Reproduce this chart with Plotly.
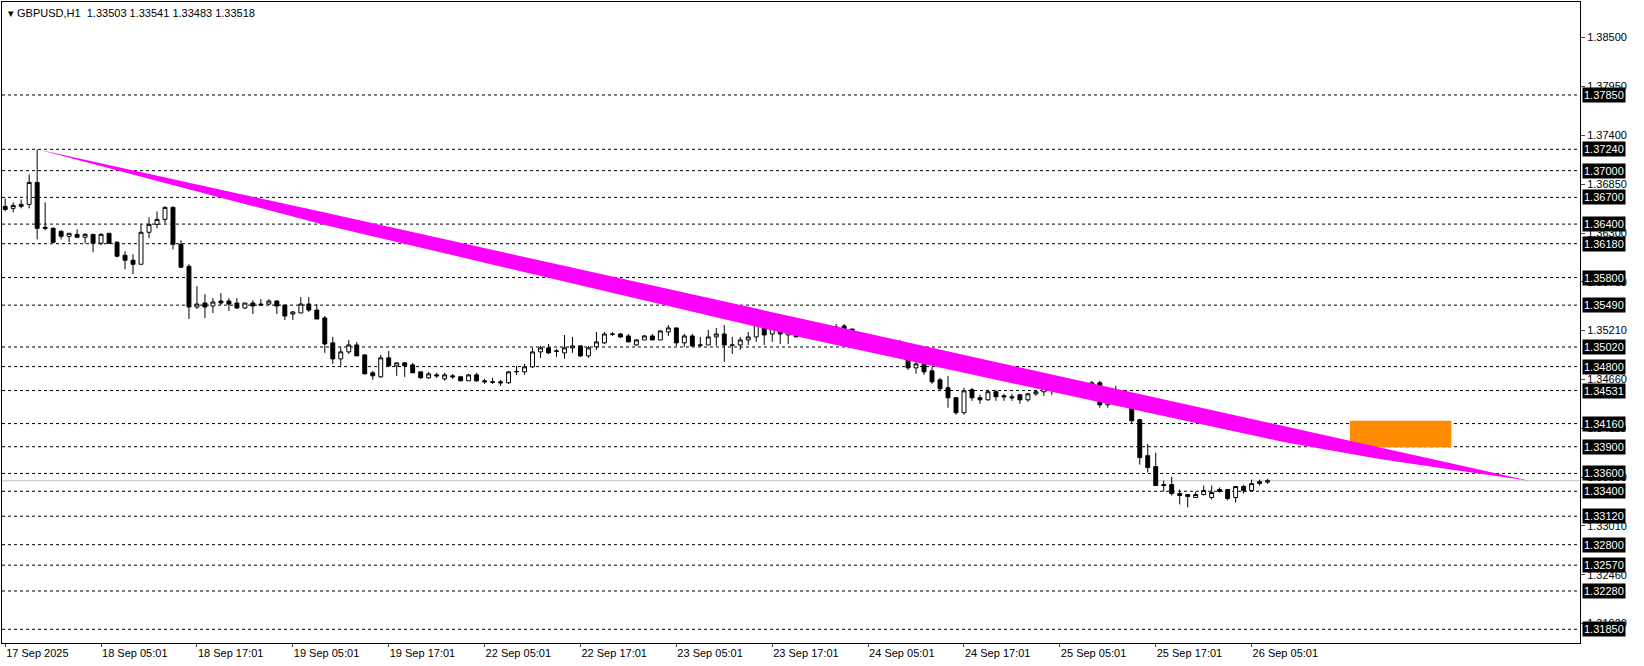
import plotly.graph_objects as go

# GBPUSD H1 bars
opens = [1.36599, 1.36577, 1.36599, 1.36621, 1.36868, 1.36364, 1.36353, 1.36319, 1.36263, 1.36285,
         1.36252, 1.36285, 1.36185, 1.36297, 1.36196, 1.36050, 1.35994, 1.35949, 1.36308, 1.36397,
         1.36453, 1.36588, 1.36173, 1.35927, 1.35469, 1.35514, 1.35480, 1.35536, 1.35536, 1.35514,
         1.35458, 1.35514, 1.35502, 1.35502, 1.35536, 1.35491, 1.35390, 1.35402, 1.35502, 1.35435,
         1.35346, 1.35066, 1.34886, 1.34965, 1.35043, 1.34931, 1.34730, 1.34685, 1.34898, 1.34808,
         1.34842, 1.34819, 1.34741, 1.34674, 1.34707, 1.34662, 1.34696, 1.34685, 1.34640, 1.34707,
         1.34640, 1.34629, 1.34629, 1.34618, 1.34741, 1.34741, 1.34797, 1.34965, 1.35010, 1.34976,
         1.34954, 1.35010, 1.35032, 1.34920, 1.35021, 1.35066, 1.35166, 1.35166, 1.35144, 1.35043,
         1.35099, 1.35144, 1.35099, 1.35189, 1.35234, 1.35066, 1.35144, 1.35043, 1.35043, 1.35133,
         1.35166, 1.35043, 1.35043, 1.35099, 1.35133, 1.35323, 1.35166, 1.35234, 1.35155, 1.35200,
         1.35144, 1.35178, 1.35245, 1.35144, 1.35189, 1.35256, 1.35222, 1.35133, 1.35088, 1.35099,
         1.35043, 1.35077, 1.35077, 1.34976, 1.34786, 1.34830, 1.34752, 1.34651, 1.34562, 1.34450,
         1.34282, 1.34539, 1.34450, 1.34427, 1.34517, 1.34472, 1.34461, 1.34483, 1.34427, 1.34494,
         1.34517, 1.34573, 1.34539, 1.34562, 1.34606, 1.34606, 1.34517, 1.34618, 1.34371, 1.34517,
         1.34483, 1.34427, 1.34203, 1.33800, 1.33677, 1.33475, 1.33475, 1.33374, 1.33363, 1.33330,
         1.33363, 1.33330, 1.33397, 1.33419, 1.33330, 1.33453, 1.33408, 1.33486, 1.33503]
highs = [1.36689, 1.36644, 1.36677, 1.36957, 1.37240, 1.36644, 1.36364, 1.36330, 1.36297, 1.36341,
         1.36297, 1.36285, 1.36297, 1.36297, 1.36207, 1.36095, 1.36061, 1.36397, 1.36476, 1.36543,
         1.36599, 1.36599, 1.36218, 1.35949, 1.35703, 1.35613, 1.35569, 1.35625, 1.35569, 1.35569,
         1.35514, 1.35546, 1.35557, 1.35557, 1.35546, 1.35491, 1.35424, 1.35580, 1.35580, 1.35502,
         1.35368, 1.35133, 1.35021, 1.35099, 1.35077, 1.34942, 1.34752, 1.34931, 1.34976, 1.34842,
         1.34842, 1.34842, 1.34741, 1.34741, 1.34730, 1.34730, 1.34718, 1.34696, 1.34718, 1.34730,
         1.34662, 1.34674, 1.34651, 1.34752, 1.34808, 1.34830, 1.35010, 1.35032, 1.35054, 1.34998,
         1.35155, 1.35133, 1.35043, 1.35032, 1.35189, 1.35189, 1.35189, 1.35178, 1.35166, 1.35110,
         1.35155, 1.35166, 1.35211, 1.35267, 1.35234, 1.35166, 1.35166, 1.35133, 1.35211, 1.35234,
         1.35267, 1.35133, 1.35133, 1.35189, 1.35334, 1.35357, 1.35245, 1.35245, 1.35234, 1.35211,
         1.35211, 1.35256, 1.35256, 1.35245, 1.35278, 1.35278, 1.35222, 1.35144, 1.35155, 1.35133,
         1.35099, 1.35110, 1.35099, 1.35010, 1.34864, 1.34864, 1.34797, 1.34674, 1.34696, 1.34450,
         1.34562, 1.34562, 1.34483, 1.34539, 1.34539, 1.34494, 1.34494, 1.34494, 1.34506, 1.34539,
         1.34606, 1.34606, 1.34606, 1.34618, 1.34640, 1.34629, 1.34640, 1.34640, 1.34528, 1.34584,
         1.34539, 1.34450, 1.34214, 1.33934, 1.33834, 1.33520, 1.33565, 1.33419, 1.33363, 1.33397,
         1.33464, 1.33464, 1.33442, 1.33419, 1.33453, 1.33475, 1.33531, 1.33531, 1.33541]
lows = [1.36543, 1.36532, 1.36577, 1.36577, 1.36229, 1.36330, 1.36185, 1.36229, 1.36196, 1.36252,
        1.36185, 1.36084, 1.36162, 1.36185, 1.36028, 1.35893, 1.35837, 1.35949, 1.36241, 1.36353,
        1.36409, 1.36117, 1.35905, 1.35334, 1.35446, 1.35346, 1.35402, 1.35491, 1.35424, 1.35446,
        1.35446, 1.35390, 1.35480, 1.35491, 1.35390, 1.35323, 1.35323, 1.35402, 1.35413, 1.35334,
        1.34954, 1.34830, 1.34808, 1.34942, 1.34920, 1.34718, 1.34651, 1.34674, 1.34797, 1.34696,
        1.34685, 1.34730, 1.34662, 1.34662, 1.34674, 1.34640, 1.34662, 1.34640, 1.34640, 1.34629,
        1.34606, 1.34606, 1.34584, 1.34606, 1.34707, 1.34707, 1.34786, 1.34898, 1.34942, 1.34909,
        1.34886, 1.34954, 1.34909, 1.34898, 1.34987, 1.35054, 1.35144, 1.35122, 1.35077, 1.35032,
        1.35099, 1.35099, 1.35099, 1.35144, 1.35032, 1.35021, 1.35021, 1.35021, 1.35043, 1.35032,
        1.34853, 1.34942, 1.34987, 1.35043, 1.35077, 1.35043, 1.35077, 1.35054, 1.35054, 1.35133,
        1.35122, 1.35122, 1.35178, 1.35099, 1.35189, 1.35200, 1.35122, 1.35054, 1.35077, 1.35032,
        1.35043, 1.34998, 1.34898, 1.34763, 1.34718, 1.34707, 1.34606, 1.34539, 1.34338, 1.34259,
        1.34259, 1.34416, 1.34382, 1.34416, 1.34416, 1.34416, 1.34416, 1.34382, 1.34405, 1.34472,
        1.34472, 1.34483, 1.34517, 1.34539, 1.34584, 1.34506, 1.34483, 1.34338, 1.34338, 1.34450,
        1.34427, 1.34158, 1.33699, 1.33610, 1.33464, 1.33397, 1.33352, 1.33252, 1.33219, 1.33330,
        1.33352, 1.33307, 1.33386, 1.33297, 1.33274, 1.33374, 1.33397, 1.33464, 1.33483]
closes = [1.36565, 1.36610, 1.36621, 1.36868, 1.36353, 1.36353, 1.36196, 1.36263, 1.36297, 1.36252,
          1.36285, 1.36185, 1.36285, 1.36185, 1.36039, 1.35994, 1.35949, 1.36308, 1.36397, 1.36453,
          1.36588, 1.36173, 1.35916, 1.35469, 1.35502, 1.35469, 1.35525, 1.35514, 1.35502, 1.35458,
          1.35514, 1.35480, 1.35491, 1.35536, 1.35480, 1.35368, 1.35413, 1.35502, 1.35435, 1.35334,
          1.35054, 1.34886, 1.34965, 1.35043, 1.34920, 1.34718, 1.34696, 1.34898, 1.34808, 1.34842,
          1.34808, 1.34730, 1.34674, 1.34718, 1.34696, 1.34707, 1.34685, 1.34640, 1.34707, 1.34640,
          1.34629, 1.34625, 1.34618, 1.34741, 1.34745, 1.34797, 1.34965, 1.35010, 1.34954, 1.34972,
          1.35010, 1.35032, 1.34920, 1.35010, 1.35077, 1.35166, 1.35162, 1.35133, 1.35077, 1.35099,
          1.35144, 1.35099, 1.35200, 1.35234, 1.35066, 1.35144, 1.35032, 1.35040, 1.35133, 1.35166,
          1.35043, 1.35040, 1.35099, 1.35133, 1.35323, 1.35155, 1.35234, 1.35166, 1.35200, 1.35133,
          1.35178, 1.35245, 1.35211, 1.35211, 1.35245, 1.35211, 1.35122, 1.35077, 1.35085, 1.35043,
          1.35088, 1.35074, 1.34976, 1.34786, 1.34830, 1.34741, 1.34629, 1.34550, 1.34450, 1.34282,
          1.34528, 1.34450, 1.34427, 1.34517, 1.34461, 1.34461, 1.34450, 1.34427, 1.34494, 1.34517,
          1.34584, 1.34539, 1.34562, 1.34606, 1.34603, 1.34517, 1.34618, 1.34371, 1.34517, 1.34461,
          1.34427, 1.34192, 1.33778, 1.33666, 1.33464, 1.33464, 1.33374, 1.33352, 1.33341, 1.33363,
          1.33408, 1.33386, 1.33419, 1.33318, 1.33453, 1.33408, 1.33486, 1.33508, 1.33518]
bars = list(range(len(opens)))

# horizontal levels (dashed lines with black price tags)
levels = [1.37850, 1.37240, 1.37000, 1.36700, 1.36400, 1.36180, 1.35800, 1.35490, 1.35020, 1.34800,
          1.34531, 1.34160, 1.33900, 1.33600, 1.33400, 1.33120, 1.32800, 1.32570, 1.32280, 1.31850]
price_ticks = [1.38500, 1.37950, 1.37400, 1.36850, 1.36300, 1.35750, 1.35210, 1.34660, 1.34110,
               1.33560, 1.33010, 1.32460, 1.31920]
date_tick_bars = [0, 12, 24, 36, 48, 60, 72, 84, 96, 108, 120, 132, 144, 156]
date_labels = ["17 Sep 2025", "18 Sep 05:01", "18 Sep 17:01", "19 Sep 05:01", "19 Sep 17:01",
               "22 Sep 05:01", "22 Sep 17:01", "23 Sep 05:01", "23 Sep 17:01", "24 Sep 05:01",
               "24 Sep 17:01", "25 Sep 05:01", "25 Sep 17:01", "26 Sep 05:01"]

# trend band drawing (bar index, price)
trend_x = [4, 40, 100, 160, 172, 182, 190.7]
trend_top = [1.37240, 1.36530, 1.35331, 1.34133, 1.33891, 1.33691, 1.33519]
trend_bottom = [1.37240, 1.36390, 1.35121, 1.33953, 1.33761, 1.33631, 1.33519]

# orange zone
zone_x = [168.3, 181.0]
zone_y = [1.33894, 1.34193]

last_price = closes[-1]
font = "Liberation Sans"

fig = go.Figure()

fig.add_trace(go.Scatter(
    x=trend_x + trend_x[::-1], y=trend_top + trend_bottom[::-1],
    fill="toself", fillcolor="#FF00FF", line=dict(width=0), mode="lines", hoverinfo="skip"))

fig.add_trace(go.Candlestick(
    x=bars, open=opens, high=highs, low=lows, close=closes,
    increasing=dict(fillcolor="white", line=dict(color="black", width=1)),
    decreasing=dict(fillcolor="black", line=dict(color="black", width=1)),
    whiskerwidth=0))

for lv in levels:
    fig.add_shape(type="line", xref="paper", x0=0, x1=1, yref="y", y0=lv, y1=lv,
                  line=dict(color="black", width=1, dash="3px,3px"), layer="below")
    fig.add_annotation(xref="paper", x=1, y=lv, yref="y", text=f"{lv:.5f}", showarrow=False,
                       xanchor="left", xshift=2, bgcolor="black", borderpad=1,
                       font=dict(family=font, size=11, color="white"))

fig.add_shape(type="line", xref="paper", x0=0, x1=1, y0=last_price, y1=last_price,
              line=dict(color="#C0C0C0", width=1), layer="below")

fig.add_shape(type="rect", x0=zone_x[0], x1=zone_x[1], y0=zone_y[0], y1=zone_y[1],
              fillcolor="#FF8C00", line=dict(width=0), layer="below")

fig.add_annotation(xref="paper", yref="paper", x=0, y=1, xanchor="left", yanchor="top",
                   xshift=4, yshift=-3, showarrow=False,
                   text="▾ GBPUSD,H1  1.33503 1.33541 1.33483 1.33518",
                   font=dict(family=font, size=11, color="black"))

fig.update_layout(
    width=1644, height=666, showlegend=False,
    paper_bgcolor="white", plot_bgcolor="white",
    margin=dict(l=2, r=64, t=2, b=23),
    font=dict(family=font, size=11, color="black"),
    xaxis=dict(range=[-0.4, 197.1], rangeslider=dict(visible=False), showgrid=False, zeroline=False,
               tickvals=date_tick_bars, ticktext=date_labels, ticks="outside", ticklen=3,
               ticklabelposition="outside right", ticklabelstandoff=0,
               showline=True, linecolor="black", mirror=True),
    yaxis=dict(range=[1.31696, 1.38894], side="right", showgrid=False, zeroline=False,
               tickvals=price_ticks, ticktext=[f"{p:.5f}" for p in price_ticks],
               ticks="outside", ticklen=4, showline=True, linecolor="black", mirror=True),
)

fig.write_html("out.html", config={"displayModeBar": False},
               post_script="document.body.style.margin='0';")
